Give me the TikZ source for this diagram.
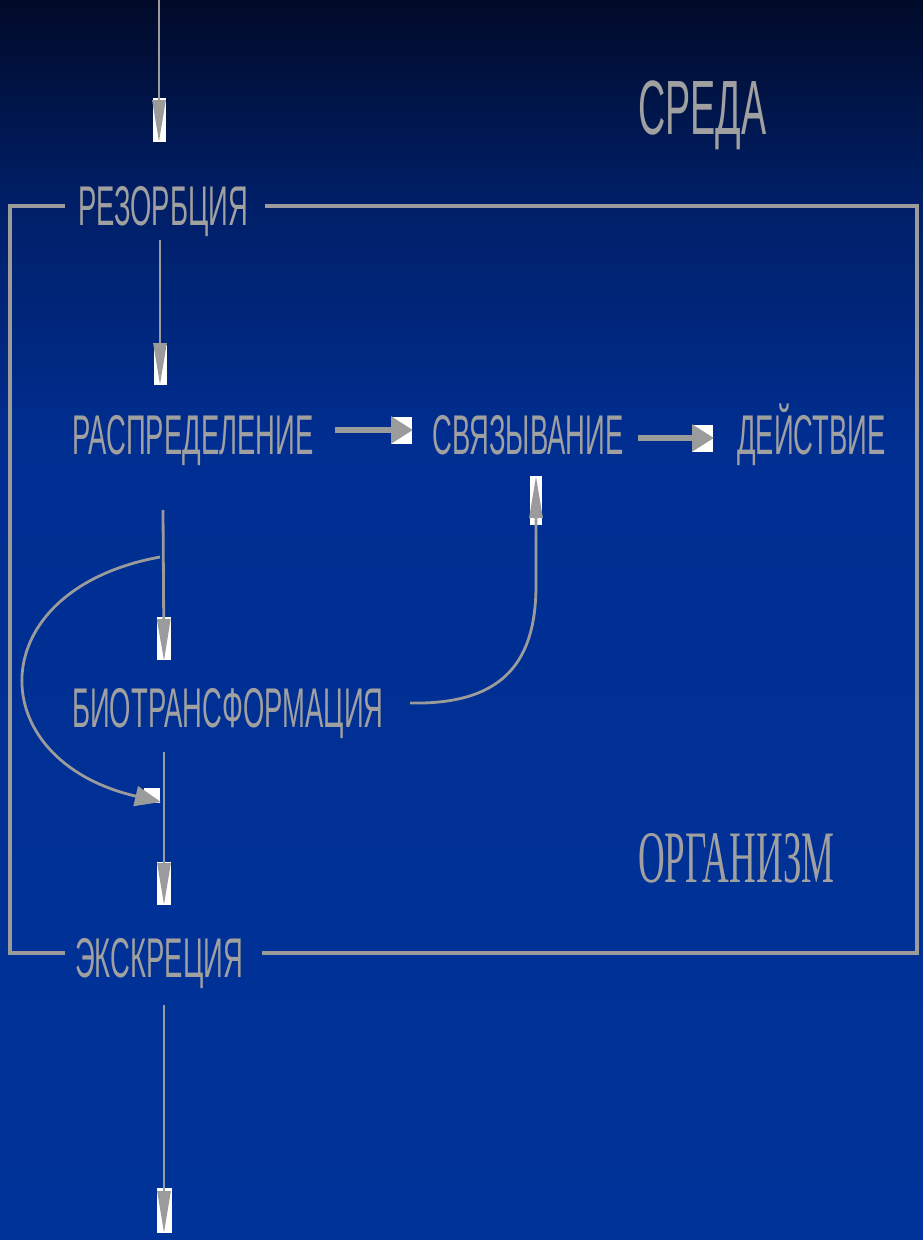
\documentclass[tikz,border=0pt]{standalone}
\usepackage{fontspec}
\usetikzlibrary{arrows.meta}
\newfontfamily\narrowsans[FakeStretch=0.49]{Liberation Sans}
\newfontfamily\narrowserif[FakeStretch=0.5]{Liberation Serif}
\definecolor{labelgray}{RGB}{160,160,160}
\definecolor{linegray}{RGB}{155,155,155}
% night sky to deep blue, most of the change in the upper part
\pgfdeclareverticalshading{bgshade}{100bp}{%
  rgb(0bp)=(0,0.2,0.6);
  rgb(25bp)=(0,0.2,0.6);
  rgb(57bp)=(0,0.18,0.57);
  rgb(67bp)=(0,0.12,0.40);
  rgb(75bp)=(0.004,0.04,0.16);
  rgb(100bp)=(0.004,0.04,0.16)}
\tikzset{
  label/.style={inner sep=0pt, anchor=base west, text=labelgray,
    font=\narrowsans\fontsize{56}{60}\selectfont},
  bigtitle/.style={inner sep=0pt, anchor=base west, text=labelgray,
    font=\narrowsans\fontsize{77}{80}\selectfont},
  seriftitle/.style={inner sep=0pt, anchor=base west, text=labelgray,
    font=\narrowserif\fontsize{74}{80}\selectfont},
  frame/.style={draw=linegray, line width=3.5pt},
  vflow/.style={draw=linegray, line width=2.8pt,
    -{Triangle[length=42pt, width=13pt, fill=linegray]}},
  hflow/.style={draw=linegray, line width=5.5pt,
    -{Triangle[length=22pt, width=26pt, fill=linegray]}},
  loopflow/.style={draw=linegray, line width=2.8pt,
    -{Triangle[length=26pt, width=20pt, fill=linegray]}},
  tipbg/.style={fill=white, draw=none},
}
\begin{document}
\begin{tikzpicture}[x=1pt, y=-1pt]
  % background
  \shade[shading=bgshade] (0,0) rectangle (923,1240);
  \useasboundingbox (0,0) rectangle (923,1240);

  % labels
  \node[bigtitle]   (sreda)  at (638,134) {СРЕДА};
  \node[label]      (rez)    at (78,225)  {РЕЗОРБЦИЯ};
  \node[label]      (rasp)   at (72,454)  {РАСПРЕДЕЛЕНИЕ};
  \node[label]      (svyaz)  at (432,454) {СВЯЗЫВАНИЕ};
  \node[label]      (deist)  at (737,454) {ДЕЙСТВИЕ};
  \node[label]      (bio)    at (72,727)  {БИОТРАНСФОРМАЦИЯ};
  \node[seriftitle] (org)    at (638,882) {ОРГАНИЗМ};
  \node[label]      (eks)    at (75,977)  {ЭКСКРЕЦИЯ};

  % organism boundary
  \draw[frame] (65,206) -- (10,206) -- (10,953) -- (65,953);
  \draw[frame] (265,206) -- (917,206) -- (917,953) -- (262,953);

  % arrow ends
  \coordinate (inflow)   at (159,0);
  \coordinate (intip)    at (159,142);
  \coordinate (rezout)   at (160,240);
  \coordinate (rasptip)  at (160,385);
  \coordinate (h1s)      at (335,430);
  \coordinate (h1e)      at (413,430);
  \coordinate (h2s)      at (638,438);
  \coordinate (h2e)      at (714,438);
  \coordinate (raspout)  at (163,510);
  \coordinate (biotip)   at (164,661);
  \coordinate (bioright) at (410,703);
  \coordinate (svyaztip) at (536,476);
  \coordinate (loopin)   at (160,557);
  \coordinate (looptip)  at (161,802);
  \coordinate (bioout)   at (164,752);
  \coordinate (ekstip)   at (164,905);
  \coordinate (eksout)   at (164,1005);
  \coordinate (outflow)  at (164,1233);

  % white backing behind the arrow heads
  \fill[tipbg] (153,98)  rectangle (166,142);
  \fill[tipbg] (154,345) rectangle (167,385);
  \fill[tipbg] (391,417) rectangle (412,444);
  \fill[tipbg] (692,425) rectangle (713,452);
  \fill[tipbg] (157,617) rectangle (171,660);
  \fill[tipbg] (530,476) rectangle (542,525);
  \fill[tipbg] (144,788) rectangle (160,803);
  \fill[tipbg] (157,862) rectangle (171,905);
  \fill[tipbg] (157,1188) rectangle (172,1233);

  % flows
  \draw[vflow] (inflow) -- (intip);
  \draw[vflow] (rezout) -- (rasptip);
  \draw[hflow] (h1s) -- (h1e);
  \draw[hflow] (h2s) -- (h2e);
  \draw[vflow] (raspout) -- (biotip);
  \draw[vflow] (bioright) .. controls (505,705) and (536,660) .. (536,585) -- (svyaztip);
  \draw[loopflow] (loopin) .. controls (-20,590) and (-20,760) .. (looptip);
  \draw[vflow] (bioout) -- (ekstip);
  \draw[vflow] (eksout) -- (outflow);
\end{tikzpicture}
\end{document}
